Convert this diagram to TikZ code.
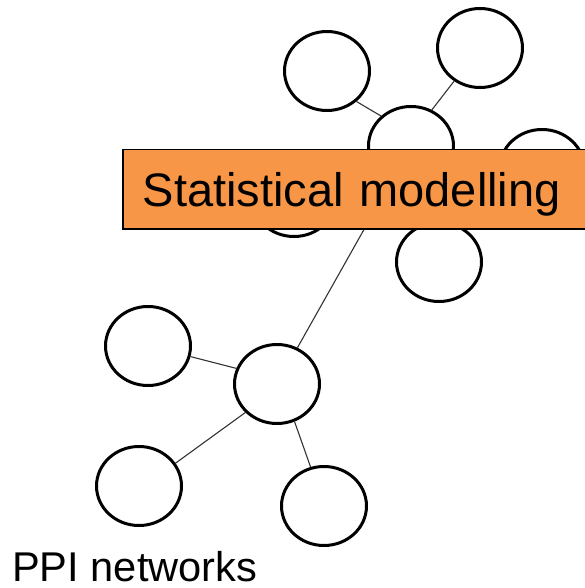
\documentclass[tikz,border=0pt]{standalone}
\usepackage{fontspec}
\setmainfont{Liberation Sans}
\usetikzlibrary{shapes.geometric}
\definecolor{modelorange}{RGB}{247,150,70}
\tikzset{
	prot/.style={ellipse,draw=black,line width=3pt,fill=white,minimum width=85pt,minimum height=79pt,inner sep=0pt},
	link/.style={line width=1.1pt,draw=black!80},
}
\begin{document}
\begin{tikzpicture}[x=1pt,y=-1pt]
			\useasboundingbox (0,0) rectangle (585,588);
			\node[prot] (tl) at (327,71) {};
			\node[prot] (tr) at (480,48) {};
			\node[prot] (hubT) at (411,146) {};
			\node[prot] (rt) at (542,169) {};
			\node[prot] (md) at (294,197) {};
			\node[prot] (bt) at (439,262) {};
			\node[prot] (lf) at (148,346) {};
			\node[prot] (hubB) at (277,384) {};
			\node[prot] (ll) at (139,486) {};
			\node[prot] (lr) at (324,506) {};
			\draw[link] (tl.-46) -- (hubT.135);
			\draw[link] (hubT.60) -- (tr.-128);
			\draw[link] (hubB) -- (hubT);
			\draw[link] (lf.-14) -- (hubB.159);
			\draw[link] (hubB.-138) -- (ll.32);
			\draw[link] (hubB.-65) -- (lr.109);
			\node[anchor=north west,fill=modelorange,draw=black,line width=1.5pt,minimum height=79pt,text width=440pt,inner xsep=20pt,inner ysep=0pt,text depth=0pt,align=left,font=\fontsize{47}{56}\selectfont] (model) at (122,149) {Statistical modelling};
			\node[anchor=base west,inner sep=0pt,font=\fontsize{41.6}{50}\selectfont] (ppi) at (12,581) {PPI networks};
\end{tikzpicture}
\end{document}
